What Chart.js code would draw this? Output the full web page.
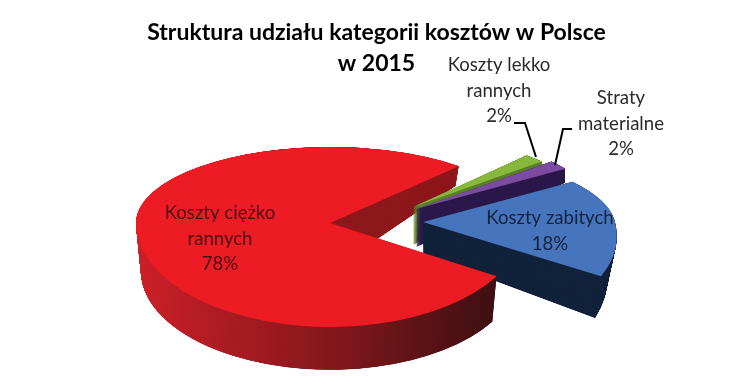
<!DOCTYPE html>
<html>
<head>
<meta charset="utf-8">
<style>
  html, body { margin: 0; padding: 0; background: #fff; }
  canvas { display: block; }
</style>
<script src="https://cdn.jsdelivr.net/npm/chart.js@4"></script>
</head>
<body>
<canvas id="chart" width="753" height="387"></canvas>
<script>
const titleLines = ['Struktura udziału kategorii kosztów w Polsce', 'w 2015'];
const categories = ['Koszty zabitych', 'Koszty ciężko rannych', 'Koszty lekko rannych', 'Straty materialne'];
const shares = [18, 78, 2, 2];
const faceColors = ['#4674bd', '#ed1c24', '#86b83c', '#7b4ca2'];
const wallColors = ['#13243c', '#8f1a1e', '#5d8128', '#2e1a4c'];
const labelLines = [['Koszty zabitych'], ['Koszty ciężko', 'rannych'], ['Koszty lekko', 'rannych'], ['Straty', 'materialne']];

// where each exploded slice sits on the page (approximates the 3D perspective)
const sliceViews = [
    { cx: 423, cy: 222, rx: 192, up: 72, down: 106, skew: 0.24, depth: 32, rxEnd: 0.95, upEnd: 1, downEnd: 1.18 },
    { cx: 330, cy: 223, rx: 194, up: 76, down: 104, skew: 0, depth: 48, rxEnd: 0.975, upEnd: 1.5, downEnd: 0.95 },
    { cx: 413, cy: 207, rx: 171, up: 69, down: 69, skew: 0, depth: 38, rxEnd: 1, upEnd: 1.6, downEnd: 1 },
    { cx: 416, cy: 209, rx: 180, up: 72, down: 72, skew: 0, depth: 38, rxEnd: 1, upEnd: 1.6, downEnd: 1 }
];
const redIndex = 1;
const backSlices = [2, 3, 0];
const labelSpots = [
    { x: 550, y: 218, color: '#14233c' },
    { x: 220, y: 213, color: '#4a0d12' },
    { x: 499, y: 65, color: '#2b2b2b' },
    { x: 621, y: 98, color: '#2b2b2b' }
];
const leaders = [
    [[514, 123], [525, 123], [536, 157]],
    [[572, 129], [563, 129], [555, 165]]
];

function paintSlice(ctx, chart, arc, view, color, t) {
    const R = arc.outerRadius;
    const rx = view.rx * (1 + (view.rxEnd - 1) * t);
    const up = view.up * (1 + (view.upEnd - 1) * t);
    const down = view.down * (1 + (view.downEnd - 1) * t);
    const y0 = view.cy + view.depth * t;
    const layer = Object.create(arc);
    layer.options = {
        backgroundColor: color, borderColor: color, borderWidth: 0, borderAlign: 'center',
        borderRadius: 0, borderJoinStyle: 'round', spacing: 0, offset: 0, circular: true
    };
    [[0, y0, up], [y0, chart.height - y0, down]].forEach(([top, h, ry]) => {
        ctx.save();
        ctx.beginPath();
        ctx.rect(0, top, chart.width, h);
        ctx.clip();
        ctx.translate(view.cx, y0);
        ctx.transform(1, 0, view.skew, 1, 0, 0);
        ctx.scale(rx / R, ry / R);
        ctx.translate(-arc.x, -arc.y);
        layer.draw(ctx);
        ctx.restore();
    });
}

function paintWall(ctx, chart, arc, view, color) {
    // fine steps so the thin tips of the small slices still build up a solid wall
    for (let d = view.depth; d > 0; d -= 0.2) {
        paintSlice(ctx, chart, arc, view, color, d / view.depth);
    }
}

const pie3d = {
    id: 'pie3d',
    beforeDatasetDraw() {
        return false;
    },
    afterDatasetsDraw(chart) {
        const ctx = chart.ctx;
        const arcs = chart.getDatasetMeta(0).data;
        const red = arcs[redIndex];
        const redView = sliceViews[redIndex];
        const notch = [redView.cx - 30, 100, 160, redView.cy + 47 - 100];

        // inner cut wall of the big slice sits behind the small slices
        ctx.save();
        ctx.beginPath();
        ctx.rect(notch[0], notch[1], notch[2], notch[3]);
        ctx.clip();
        paintWall(ctx, chart, red, redView, wallColors[redIndex]);
        ctx.restore();

        backSlices.forEach(i => {
            paintWall(ctx, chart, arcs[i], sliceViews[i], wallColors[i]);
            paintSlice(ctx, chart, arcs[i], sliceViews[i], faceColors[i], 0);
        });

        // outer wall with the shading, then the top of the big slice
        const R = red.outerRadius;
        const shade = ctx.createLinearGradient(red.x - R, 0, red.x + R, 0);
        shade.addColorStop(0, '#cc1f27');
        shade.addColorStop(0.5, '#84171c');
        shade.addColorStop(0.95, '#3a0f11');
        ctx.save();
        ctx.beginPath();
        ctx.rect(0, 0, chart.width, chart.height);
        ctx.rect(notch[0], notch[1], notch[2], notch[3]);
        ctx.clip('evenodd');
        paintWall(ctx, chart, red, redView, shade);
        ctx.restore();
        paintSlice(ctx, chart, red, redView, faceColors[redIndex], 0);

        ctx.save();
        ctx.strokeStyle = '#000';
        ctx.lineWidth = 2;
        leaders.forEach(pts => {
            ctx.beginPath();
            pts.forEach((p, k) => k ? ctx.lineTo(p[0], p[1]) : ctx.moveTo(p[0], p[1]));
            ctx.stroke();
        });
        ctx.restore();

        ctx.save();
        ctx.font = '18.6px Lato';
        ctx.textAlign = 'center';
        ctx.textBaseline = 'middle';
        labelSpots.forEach((spot, i) => {
            ctx.fillStyle = spot.color;
            const lines = labelLines[i].concat(shares[i] + '%');
            lines.forEach((line, k) => ctx.fillText(line, spot.x, spot.y + k * 25.5));
        });
        ctx.restore();
    }
};

new Chart(document.getElementById('chart').getContext('2d'), {
    type: 'pie',
    data: {
        labels: categories,
        datasets: [{
            data: shares,
            backgroundColor: faceColors,
            borderWidth: 0
        }]
    },
    options: {
        responsive: false,
        animation: false,
        rotation: 56,
        plugins: {
            legend: { display: false },
            tooltip: { enabled: false },
            title: {
                display: true,
                text: titleLines,
                color: '#000',
                font: { family: 'Lato', size: 23, weight: 'bold', lineHeight: 1.34 },
                padding: { top: 17, bottom: 10 }
            }
        }
    },
    plugins: [pie3d]
});
</script>
</body>
</html>
